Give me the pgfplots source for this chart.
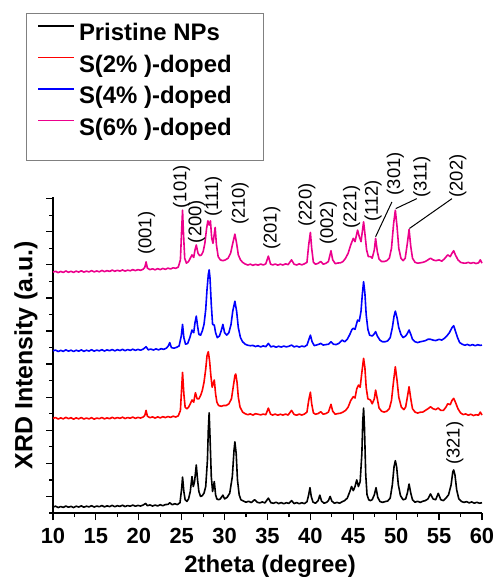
\documentclass[border=0pt]{standalone}
\usepackage{fontspec}
\setmainfont{Liberation Sans}
\usepackage{pgfplots}
\pgfplotsset{compat=1.18}
\begin{document}
\begin{tikzpicture}
\path[use as bounding box] (-53bp,-64bp) rectangle (443bp,513bp);
\begin{axis}[
  scale only axis, width=429bp, height=316bp,
  at={(0,0)}, anchor=south west,
  xmin=10, xmax=60, ymin=0, ymax=19.1,
  axis lines=left, axis line style={-, line width=1.5bp},
  clip=false,
  xtick={10,15,...,60}, minor x tick num=1,
  ytick={1,3,...,19}, minor ytick={0,2,...,18}, yticklabels={},
  tick align=outside,
  major tick length=7bp, minor tick length=4bp,
  every tick/.style={black, line width=1.2bp},
  /pgf/number format/assume math mode=true,
  xticklabel style={font=\fontsize{22}{22}\selectfont\bfseries, anchor=base, yshift=-23bp},
  xlabel={2theta (degree)},
  xlabel style={font=\fontsize{24}{24}\selectfont\bfseries, at={(axis description cs:0.506,0)}, anchor=base, yshift=-59bp},
  ylabel={XRD Intensity (a.u.)},
  ylabel style={font=\fontsize{25}{25}\selectfont\bfseries, at={(axis description cs:-0.063,0.5)}, anchor=center},
  legend image code/.code={\draw[#1, line width=1.8bp] (0bp,8.6bp) -- (36bp,8.6bp);},
  legend cell align=left,
  legend style={draw=none, fill=none, inner sep=0pt, row sep=9.3bp, column sep=4bp,
    at={(axis description cs:-0.0373,1.5497)}, anchor=north west,
    font=\fontsize{24}{24}\selectfont\bfseries,
    nodes={inner sep=0pt, text height=17.2bp, text depth=5bp}},
]
% black
\addplot[black, line width=1.6bp, line join=round] coordinates {
(10.0,0.36)(10.3,0.41)(10.6,0.33)(10.9,0.39)(11.2,0.34)(11.5,0.42)(11.8,0.35)(12.1,0.40)(12.4,0.33)(12.7,0.41)(13.0,0.36)(13.3,0.43)(13.6,0.35)(13.9,0.41)(14.2,0.37)(14.5,0.44)(14.8,0.36)(15.1,0.42)(15.4,0.38)(15.7,0.45)(16.0,0.37)(16.3,0.43)(16.6,0.39)(16.9,0.46)(17.2,0.38)(17.5,0.44)(17.8,0.40)(18.1,0.47)(18.4,0.39)(18.7,0.45)(19.0,0.41)(19.3,0.48)(19.6,0.41)(19.9,0.46)(20.2,0.42)(20.5,0.48)(20.8,0.58)(21.0,0.44)(21.3,0.49)(21.6,0.42)(21.9,0.48)(22.2,0.43)(22.5,0.50)(22.8,0.44)(23.1,0.51)(23.4,0.52)(23.6,0.62)(23.9,0.50)(24.2,0.56)(24.5,0.51)(24.8,0.62)
(25.0,1.5)(25.1,2.17)(25.25,1.3)(25.4,0.8)(25.6,0.7)(25.8,0.85)(26.0,1.3)(26.2,2.2)(26.35,1.6)(26.5,1.9)(26.7,2.9)(26.85,2.0)(27.0,1.3)(27.2,1.0)(27.4,1.05)(27.6,1.2)(27.8,1.6)(28.0,3.2)(28.1,5.0)(28.2,6.06)(28.3,4.6)(28.45,2.2)(28.6,1.3)(28.8,1.9)(28.95,1.1)(29.1,0.85)(29.3,0.8)(29.5,0.85)(29.8,1.08)(30.0,0.85)(30.3,0.95)(30.6,1.2)(30.9,2.2)(31.1,3.8)(31.2,4.3)(31.35,3.6)(31.5,2.0)(31.7,1.1)(31.9,0.8)(32.2,0.72)(32.5,0.65)(32.8,0.71)(33.1,0.63)(33.5,0.8)(33.8,0.65)(34.1,0.61)(34.4,0.67)(34.7,0.61)(35.1,0.9)(35.4,0.62)(35.7,0.59)(36.0,0.65)(36.3,0.57)(36.6,0.63)(36.9,0.56)(37.2,0.62)(37.5,0.58)(37.8,0.75)(38.1,0.57)(38.4,0.63)(38.7,0.56)(39.0,0.62)(39.3,0.57)(39.6,0.68)(39.8,1.1)(39.95,1.53)(40.1,1.0)(40.3,0.66)(40.6,0.59)(40.9,0.75)(41.1,1.08)(41.3,0.72)(41.6,0.59)(41.9,0.65)(42.1,0.75)(42.3,1.0)(42.5,0.72)(42.8,0.59)(43.1,0.64)(43.4,0.59)(43.7,0.68)(44.0,0.75)(44.3,0.9)(44.6,1.3)(44.8,1.6)(45.0,1.35)(45.2,1.6)(45.4,2.0)(45.6,1.6)(45.8,1.9)(46.0,3.6)(46.1,5.5)(46.2,6.34)(46.3,5.2)(46.45,2.3)(46.6,1.1)(46.8,0.8)(47.0,0.75)(47.2,0.8)(47.45,1.1)(47.65,1.53)(47.85,0.95)(48.1,0.7)(48.4,0.64)(48.7,0.69)(49.0,0.72)(49.3,0.9)(49.55,1.7)(49.75,2.8)(49.9,3.16)(50.05,2.8)(50.25,1.7)(50.5,1.05)(50.8,0.8)(51.1,0.85)(51.3,1.2)(51.5,1.75)(51.7,1.2)(51.9,0.8)(52.2,0.65)(52.5,0.71)(52.8,0.64)(53.1,0.71)(53.4,0.75)(53.7,0.85)(54.0,1.15)(54.3,0.85)(54.6,0.8)(54.9,1.19)(55.2,0.8)(55.5,0.75)(55.8,0.9)(56.1,1.1)(56.4,1.7)(56.6,2.5)(56.7,2.6)(56.85,2.3)(57.05,1.4)(57.3,0.85)(57.6,0.7)(57.9,0.64)(58.2,0.69)(58.5,0.61)(58.8,0.67)(59.1,0.59)(59.4,0.65)(59.7,0.59)(60.0,0.62)
};
% red
\addplot[red, line width=1.6bp, line join=round] coordinates {
(10.0,5.72)(10.3,5.77)(10.6,5.68)(10.9,5.75)(11.2,5.69)(11.5,5.78)(11.8,5.70)(12.1,5.76)(12.4,5.67)(12.7,5.75)(13.0,5.69)(13.3,5.77)(13.6,5.68)(13.9,5.74)(14.2,5.69)(14.5,5.76)(14.8,5.67)(15.1,5.74)(15.4,5.70)(15.7,5.77)(16.0,5.69)(16.3,5.75)(16.6,5.70)(16.9,5.78)(17.2,5.71)(17.5,5.77)(17.8,5.72)(18.1,5.79)(18.4,5.71)(18.7,5.77)(19.0,5.73)(19.3,5.80)(19.6,5.72)(19.9,5.78)(20.2,5.74)(20.5,5.80)(20.7,5.9)(20.85,6.2)(21.0,5.85)(21.3,5.76)(21.6,5.81)(21.9,5.74)(22.2,5.81)(22.5,5.75)(22.8,5.82)(23.1,5.77)(23.4,5.83)(23.7,5.78)(24.0,5.85)(24.3,5.80)(24.6,5.87)
(24.85,6.2)(25.0,7.6)(25.1,8.5)(25.25,7.2)(25.4,6.4)(25.6,6.3)(25.8,6.4)(26.0,6.6)(26.2,6.83)(26.4,6.7)(26.6,7.27)(26.8,6.9)(27.0,6.9)(27.2,7.1)(27.4,7.4)(27.6,7.9)(27.8,8.7)(27.95,9.5)(28.1,9.75)(28.25,9.2)(28.4,8.3)(28.55,7.6)(28.8,8.04)(28.95,7.2)(29.1,6.7)(29.3,6.5)(29.6,6.45)(29.9,6.5)(30.2,6.5)(30.5,6.6)(30.8,6.9)(31.0,7.6)(31.2,8.3)(31.3,8.4)(31.45,7.9)(31.6,7.0)(31.8,6.4)(32.1,6.1)(32.4,6.0)(32.7,5.94)(33.0,5.99)(33.3,5.92)(33.6,6.0)(33.9,5.97)(34.2,5.93)(34.5,5.98)(34.8,5.94)(35.1,6.34)(35.35,5.98)(35.6,5.92)(35.9,5.98)(36.2,5.91)(36.5,5.97)(36.8,5.92)(37.1,5.98)(37.4,5.92)(37.8,6.2)(38.1,5.96)(38.4,5.91)(38.7,5.98)(39.0,5.92)(39.3,5.98)(39.6,6.1)(39.8,6.8)(40.0,7.3)(40.15,6.6)(40.35,6.05)(40.6,5.97)(40.9,6.01)(41.2,6.12)(41.5,5.97)(41.8,6.01)(42.1,6.1)(42.4,6.57)(42.6,6.15)(42.9,5.97)(43.2,6.01)(43.5,6.03)(43.8,6.1)(44.1,6.2)(44.4,6.4)(44.7,6.8)(45.0,7.03)(45.2,6.95)(45.4,7.5)(45.6,7.73)(45.8,7.6)(46.0,8.5)(46.2,9.35)(46.35,8.8)(46.5,7.6)(46.7,6.9)(47.0,6.83)(47.2,6.6)(47.45,6.9)(47.6,7.43)(47.8,6.9)(48.0,6.35)(48.3,6.15)(48.6,6.1)(48.9,6.15)(49.2,6.3)(49.45,6.8)(49.7,8.0)(49.9,8.84)(50.1,8.0)(50.3,7.0)(50.6,6.4)(50.9,6.25)(51.1,6.4)(51.3,7.0)(51.5,7.63)(51.7,6.9)(51.9,6.3)(52.2,6.1)(52.5,6.04)(52.8,6.09)(53.1,6.1)(53.4,6.2)(53.7,6.3)(54.0,6.42)(54.3,6.3)(54.6,6.25)(54.9,6.35)(55.2,6.2)(55.5,6.2)(55.8,6.4)(56.0,6.6)(56.3,6.55)(56.5,6.8)(56.7,6.93)(56.9,6.7)(57.2,6.3)(57.5,6.05)(57.8,5.95)(58.1,5.99)(58.4,5.91)(58.7,5.97)(59.0,5.89)(59.3,5.94)(59.6,5.91)(59.8,6.1)(60.0,5.92)
};
% blue
\addplot[blue, line width=1.6bp, line join=round] coordinates {
(10.0,9.80)(10.3,9.85)(10.6,9.76)(10.9,9.83)(11.2,9.77)(11.5,9.86)(11.8,9.78)(12.1,9.84)(12.4,9.76)(12.7,9.84)(13.0,9.78)(13.3,9.86)(13.6,9.77)(13.9,9.84)(14.2,9.79)(14.5,9.87)(14.8,9.78)(15.1,9.85)(15.4,9.80)(15.7,9.87)(16.0,9.79)(16.3,9.86)(16.6,9.81)(16.9,9.88)(17.2,9.80)(17.5,9.87)(17.8,9.82)(18.1,9.89)(18.4,9.81)(18.7,9.88)(19.0,9.83)(19.3,9.90)(19.6,9.83)(19.9,9.89)(20.2,9.84)(20.5,9.90)(20.85,10.05)(21.1,9.86)(21.4,9.91)(21.7,9.85)(22.0,9.92)(22.3,9.86)(22.6,9.93)(22.9,9.89)(23.2,9.96)(23.45,10.1)(23.6,10.3)(23.8,10.0)(24.1,9.96)(24.4,10.01)(24.7,10.1)
(24.95,10.7)(25.1,11.4)(25.25,10.6)(25.45,10.2)(25.7,10.25)(25.95,10.6)(26.2,11.06)(26.4,10.9)(26.55,11.5)(26.7,11.9)(26.85,11.3)(27.0,10.8)(27.2,10.75)(27.4,11.0)(27.6,11.4)(27.8,12.3)(27.95,13.5)(28.1,14.4)(28.2,14.7)(28.3,14.2)(28.45,12.6)(28.6,11.4)(28.8,11.36)(28.95,10.9)(29.15,10.6)(29.4,10.7)(29.6,11.0)(29.8,11.4)(30.0,10.9)(30.25,10.75)(30.5,10.9)(30.75,11.4)(30.95,12.2)(31.2,12.8)(31.4,12.2)(31.6,11.2)(31.85,10.6)(32.1,10.35)(32.4,10.2)(32.7,10.14)(33.0,10.11)(33.3,10.13)(33.6,10.06)(33.9,10.11)(34.2,10.04)(34.5,10.1)(34.8,10.05)(35.1,10.25)(35.4,10.04)(35.7,10.09)(36.0,10.02)(36.3,10.08)(36.6,10.03)(36.9,10.09)(37.2,10.04)(37.5,10.08)(37.8,10.15)(38.1,10.04)(38.4,10.09)(38.7,10.03)(39.0,10.09)(39.3,10.05)(39.6,10.15)(39.8,10.45)(40.0,10.75)(40.2,10.35)(40.45,10.12)(40.7,10.15)(41.0,10.2)(41.2,10.25)(41.5,10.15)(41.8,10.18)(42.1,10.2)(42.4,10.35)(42.7,10.2)(43.0,10.18)(43.3,10.25)(43.7,10.45)(44.0,10.35)(44.3,10.5)(44.6,10.8)(44.85,11.1)(45.0,11.16)(45.2,11.1)(45.5,11.66)(45.7,11.6)(45.9,12.2)(46.05,13.2)(46.2,13.98)(46.35,13.3)(46.5,12.0)(46.7,11.1)(46.9,10.75)(47.2,10.7)(47.4,10.8)(47.6,10.96)(47.8,10.7)(48.1,10.45)(48.4,10.35)(48.7,10.35)(49.0,10.4)(49.3,10.6)(49.55,11.2)(49.75,11.9)(49.9,12.2)(50.1,11.8)(50.3,11.2)(50.55,10.8)(50.8,10.6)(51.1,10.7)(51.3,10.85)(51.5,11.06)(51.7,10.8)(51.9,10.5)(52.2,10.35)(52.5,10.3)(52.8,10.35)(53.1,10.38)(53.4,10.42)(53.7,10.5)(54.0,10.5)(54.3,10.45)(54.6,10.42)(55.0,10.5)(55.3,10.45)(55.6,10.55)(55.9,10.7)(56.2,10.9)(56.5,11.2)(56.7,11.32)(56.9,11.0)(57.15,10.6)(57.4,10.3)(57.7,10.2)(58.0,10.14)(58.3,10.19)(58.6,10.12)(58.9,10.18)(59.2,10.11)(59.5,10.17)(59.8,10.13)(60.0,10.15)
};
% magenta
\addplot[magenta, line width=1.6bp, line join=round] coordinates {
(10.0,14.56)(10.3,14.61)(10.6,14.53)(10.9,14.60)(11.2,14.54)(11.5,14.63)(11.8,14.55)(12.1,14.61)(12.4,14.54)(12.7,14.62)(13.0,14.56)(13.3,14.64)(13.6,14.56)(13.9,14.62)(14.2,14.57)(14.5,14.65)(14.8,14.57)(15.1,14.63)(15.4,14.58)(15.7,14.66)(16.0,14.59)(16.3,14.65)(16.6,14.60)(16.9,14.68)(17.2,14.61)(17.5,14.67)(17.8,14.62)(18.1,14.69)(18.4,14.62)(18.7,14.68)(19.0,14.64)(19.3,14.71)(19.6,14.65)(19.9,14.71)(20.2,14.67)(20.5,14.73)(20.7,14.85)(20.85,15.18)(21.0,14.8)(21.3,14.71)(21.6,14.76)(21.9,14.70)(22.2,14.77)(22.5,14.71)(22.8,14.78)(23.1,14.73)(23.4,14.80)(23.7,14.75)(24.0,14.82)(24.3,14.79)(24.6,14.86)
(24.85,15.3)(25.0,17.2)(25.1,18.3)(25.2,17.0)(25.35,15.4)(25.55,15.1)(25.8,15.2)(26.0,15.4)(26.2,15.6)(26.4,15.45)(26.55,15.9)(26.7,16.2)(26.9,15.7)(27.1,15.55)(27.3,15.6)(27.5,15.8)(27.7,16.3)(27.9,17.2)(28.05,17.66)(28.2,17.4)(28.35,17.66)(28.5,16.6)(28.65,16.3)(28.9,17.26)(29.05,16.2)(29.25,15.5)(29.5,15.3)(29.8,15.25)(30.1,15.3)(30.4,15.4)(30.7,15.7)(30.95,16.3)(31.2,16.86)(31.4,16.3)(31.6,15.6)(31.85,15.3)(32.1,15.15)(32.4,15.05)(32.7,14.99)(33.0,15.04)(33.3,14.97)(33.6,15.03)(33.9,14.98)(34.2,15.05)(34.5,14.99)(34.8,15.06)(35.1,15.53)(35.35,15.05)(35.6,14.99)(35.9,15.05)(36.2,14.98)(36.5,15.04)(36.8,14.99)(37.1,15.06)(37.4,15.01)(37.8,15.3)(38.1,15.04)(38.4,14.99)(38.7,15.06)(39.0,15.0)(39.3,15.06)(39.6,15.15)(39.8,16.2)(40.0,16.96)(40.15,16.0)(40.35,15.15)(40.6,15.04)(40.9,15.09)(41.2,15.2)(41.5,15.04)(41.8,15.09)(42.1,15.2)(42.4,15.85)(42.6,15.3)(42.9,15.07)(43.2,15.11)(43.5,15.12)(43.8,15.2)(44.1,15.4)(44.4,15.7)(44.7,16.2)(45.0,16.6)(45.2,16.4)(45.5,17.1)(45.7,16.7)(45.9,16.4)(46.05,17.0)(46.2,17.6)(46.35,16.9)(46.55,15.9)(46.75,15.5)(47.0,15.5)(47.2,15.4)(47.45,15.9)(47.6,16.6)(47.8,15.8)(48.0,15.35)(48.3,15.2)(48.6,15.2)(48.9,15.25)(49.2,15.4)(49.45,16.0)(49.7,17.5)(49.9,18.3)(50.1,17.3)(50.3,16.0)(50.55,15.4)(50.8,15.25)(51.05,15.4)(51.3,16.3)(51.5,17.14)(51.7,16.1)(51.9,15.4)(52.2,15.15)(52.5,15.1)(52.8,15.12)(53.1,15.15)(53.4,15.2)(53.7,15.3)(54.0,15.4)(54.3,15.3)(54.6,15.25)(55.0,15.3)(55.3,15.22)(55.6,15.35)(56.0,15.6)(56.3,15.5)(56.5,15.7)(56.7,15.85)(56.9,15.6)(57.2,15.3)(57.5,15.15)(57.8,15.11)(58.1,15.1)(58.4,15.15)(58.7,15.09)(59.0,15.14)(59.3,15.08)(59.6,15.12)(59.8,15.3)(60.0,15.1)
};
\legend{Pristine NPs, S(2\% )-doped, S(4\% )-doped, S(6\% )-doped}
% legend frame
\draw[gray, line width=0.8bp] (axis description cs:-0.063,1.582) rectangle (axis description cs:0.490,1.117);
% peak labels
\begin{scope}[every node/.style={rotate=90, anchor=west, inner sep=0pt, font=\fontsize{18.5}{18.5}\selectfont}]
\node at (axis cs:20.9,15.6) {(001)};
\node at (axis cs:25.0,18.4) {(101)};
\node at (axis cs:26.75,16.3) {(200)};
\node at (axis cs:28.7,17.9) {(111)};
\node at (axis cs:31.8,17.4) {(210)};
\node at (axis cs:35.5,15.9) {(201)};
\node at (axis cs:39.6,17.3) {(220)};
\node at (axis cs:42.1,16.2) {(002)};
\node at (axis cs:44.8,17.2) {(221)};
\node at (axis cs:47.3,17.6) {(112)};
\node at (axis cs:49.9,19.2) {(301)};
\node at (axis cs:53.0,19.05) {(311)};
\node at (axis cs:57.2,19.05) {(202)};
\node at (axis cs:56.85,2.9) {(321)};
\end{scope}
\draw[black, line width=1bp] (axis cs:47.6,16.7) -- (axis cs:49.5,18.8);
\draw[black, line width=1bp] (axis cs:49.95,18.4) -- (axis cs:52.4,19.0);
\draw[black, line width=1bp] (axis cs:51.55,17.2) -- (axis cs:56.5,19.0);
\end{axis}
\end{tikzpicture}
\end{document}
